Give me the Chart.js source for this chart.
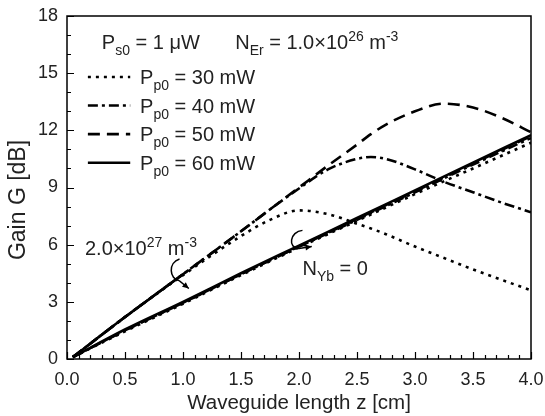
<!DOCTYPE html>
<html>
<head>
<meta charset="utf-8">
<script src="https://cdn.jsdelivr.net/npm/chart.js@4"></script>
<style>
  body { margin: 0; background: #fff; }
  canvas { display: block; }
</style>
</head>
<body>
<canvas id="chart" width="545" height="416"></canvas>
<script>
// pump powers (legend)
const pumpLabels = ['30 mW', '40 mW', '50 mW', '60 mW'];

// N_Yb = 0 curves
const zLow = [0.05, 0.5, 1.0, 1.5, 2.0, 2.5, 3.0, 3.5, 4.0];
const gainLow30 = [0.1, 1.45, 2.9, 4.4, 5.85, 7.25, 8.65, 10.0, 11.35];
const gainLow40 = [0.1, 1.5, 2.95, 4.45, 5.9, 7.3, 8.75, 10.2, 11.6];
const gainLow50 = [0.1, 1.5, 2.95, 4.45, 5.9, 7.35, 8.8, 10.25, 11.7];
const gainLow60 = [0.1, 1.55, 3.0, 4.5, 5.95, 7.4, 8.85, 10.3, 11.75];

// N_Yb = 2.0e27 m^-3 curves
const zHigh = [0.05, 0.5, 1.0, 1.5, 1.75, 2.0, 2.25, 2.5, 2.62, 2.75, 3.0, 3.25, 3.5, 3.75, 4.0];
const gainHigh30 = [0.1, 2.2, 4.4, 6.45, 7.3, 7.8, 7.6, 7.1, 6.85, 6.55, 5.9, 5.3, 4.7, 4.15, 3.6];
const gainHigh40 = [0.1, 2.2, 4.45, 6.7, 7.85, 8.95, 9.95, 10.5, 10.6, 10.5, 9.95, 9.3, 8.75, 8.2, 7.7];
const gainHigh50 = [0.1, 2.2, 4.45, 6.7, 7.85, 9.0, 10.15, 11.25, 11.8, 12.3, 13.0, 13.4, 13.2, 12.65, 11.9];
const zHigh60 = [0.05, 0.5, 1.0];
const gainHigh60 = [0.1, 2.2, 4.45];

const xTicksMajor = 0.5, xTicksMinor = 0.1;
const yTicksMajor = 3, yTicksMinor = 1;

const FONT = '"Liberation Sans", Arial, sans-serif';
const INK = '#222';
const LW = 2.6;
const dashes = [[3, 5], [10, 4, 3, 4], [12, 7], []];

function pts(xs, ys) {
    return xs.map((x, i) => ({ x: x, y: ys[i] }));
}

function series(xs, ys, k) {
    return {
        data: pts(xs, ys),
        borderColor: '#000',
        borderWidth: LW,
        borderDash: dashes[k],
        pointRadius: 0,
        fill: false,
        cubicInterpolationMode: 'monotone'
    };
}

// draw text with sub/superscript parts: [text, ''|'sub'|'sup']
function richText(ctx, x, y, parts, size) {
    ctx.save();
    ctx.fillStyle = INK;
    ctx.textBaseline = 'alphabetic';
    ctx.textAlign = 'left';
    parts.forEach(([t, mode]) => {
        let s = size, dy = 0;
        if (mode === 'sub') { s = size * 0.7; dy = size * 0.3; }
        if (mode === 'sup') { s = size * 0.7; dy = -size * 0.42; }
        ctx.font = s + 'px ' + FONT;
        ctx.fillText(t, x, y + dy);
        x += ctx.measureText(t).width;
    });
    ctx.restore();
}

function curlyArrow(ctx, p0, c1, c2, p1, tip) {
    ctx.save();
    ctx.strokeStyle = '#000';
    ctx.fillStyle = '#000';
    ctx.lineWidth = 1.5;
    ctx.beginPath();
    ctx.moveTo(p0[0], p0[1]);
    ctx.bezierCurveTo(c1[0], c1[1], c2[0], c2[1], p1[0], p1[1]);
    ctx.lineTo(tip[0], tip[1]);
    ctx.stroke();
    const a = Math.atan2(tip[1] - p1[1], tip[0] - p1[0]);
    ctx.beginPath();
    ctx.moveTo(tip[0], tip[1]);
    ctx.lineTo(tip[0] - 7 * Math.cos(a - 0.45), tip[1] - 7 * Math.sin(a - 0.45));
    ctx.lineTo(tip[0] - 7 * Math.cos(a + 0.45), tip[1] - 7 * Math.sin(a + 0.45));
    ctx.closePath();
    ctx.fill();
    ctx.restore();
}

const decorations = {
    id: 'decorations',
    afterDraw(chart) {
        const ctx = chart.ctx;
        const xs = chart.scales.x, ys = chart.scales.y;
        const area = chart.chartArea;
        const X = v => xs.getPixelForValue(v);
        const Y = v => ys.getPixelForValue(v);

        // frame
        ctx.save();
        ctx.strokeStyle = '#000';
        ctx.lineWidth = 1.5;
        ctx.strokeRect(area.left, area.top, area.right - area.left, area.bottom - area.top);

        // inward ticks
        ctx.lineWidth = 1.2;
        ctx.beginPath();
        for (let i = 0; i <= Math.round(xs.max / xTicksMinor); i++) {
            const v = i * xTicksMinor;
            const major = Math.abs(v / xTicksMajor - Math.round(v / xTicksMajor)) < 1e-6;
            const px = Math.round(X(v)) + 0.5;
            ctx.moveTo(px, area.bottom);
            ctx.lineTo(px, area.bottom - (major ? 7 : 4));
        }
        for (let i = 0; i <= Math.round(ys.max / yTicksMinor); i++) {
            const v = i * yTicksMinor;
            const major = v % yTicksMajor === 0;
            const py = Math.round(Y(v)) + 0.5;
            ctx.moveTo(area.left, py);
            ctx.lineTo(area.left + (major ? 7 : 4), py);
        }
        ctx.stroke();
        ctx.restore();

        // axis titles
        ctx.save();
        ctx.fillStyle = INK;
        ctx.textAlign = 'center';
        ctx.textBaseline = 'middle';
        ctx.font = '20.5px ' + FONT;
        ctx.fillText('Waveguide length z [cm]', (area.left + area.right) / 2, 403);
        ctx.translate(19, 200);
        ctx.rotate(-Math.PI / 2);
        ctx.font = '23px ' + FONT;
        ctx.fillText('Gain G [dB]', 0, 0);
        ctx.restore();

        // header text
        const fs = 20;
        richText(ctx, X(0.30), Y(16.63) + 7, [['P', ''], ['s0', 'sub'], [' = 1 \u03BCW', '']], fs);
        richText(ctx, X(1.45), Y(16.63) + 7,
            [['N', ''], ['Er', 'sub'], [' = 1.0\u00D710', ''], ['26', 'sup'], [' m', ''], ['-3', 'sup']], fs);

        // legend
        const rows = [14.8, 13.3, 11.8, 10.3];
        rows.forEach((g, k) => {
            const py = Y(g);
            ctx.save();
            ctx.strokeStyle = '#000';
            ctx.lineWidth = LW;
            ctx.setLineDash(dashes[k]);
            ctx.beginPath();
            ctx.moveTo(X(0.18), py);
            ctx.lineTo(X(0.545), py);
            ctx.stroke();
            ctx.restore();
            richText(ctx, X(0.63), py + 7, [['P', ''], ['p0', 'sub'], [' = ' + pumpLabels[k], '']], fs);
        });

        // curve annotations
        richText(ctx, X(0.155), Y(5.8) + 7,
            [['2.0\u00D710', ''], ['27', 'sup'], [' m', ''], ['-3', 'sup']], fs);
        richText(ctx, X(2.03), Y(4.75) + 7, [['N', ''], ['Yb', 'sub'], [' = 0', '']], fs);

        curlyArrow(ctx, [X(0.97), Y(5.25)], [X(0.87), Y(5.05)], [X(0.88), Y(4.2)],
            [X(0.97), Y(4.1)], [X(1.05), Y(3.7)]);
        curlyArrow(ctx, [X(2.03), Y(6.75)], [X(1.92), Y(6.7)], [X(1.9), Y(5.8)],
            [X(2.0), Y(5.8)], [X(2.11), Y(5.9)]);
    }
};

function fixBox(size) {
    return s => {
        if (s.isHorizontal()) s.height = size; else s.width = size;
        s.paddingLeft = 0; s.paddingRight = 0;
        s.paddingTop = 0; s.paddingBottom = 0;
    };
}

new Chart(document.getElementById('chart'), {
    type: 'line',
    data: {
        datasets: [
            series(zLow, gainLow30, 0),
            series(zLow, gainLow40, 1),
            series(zLow, gainLow50, 2),
            series(zLow, gainLow60, 3),
            series(zHigh, gainHigh30, 0),
            series(zHigh, gainHigh40, 1),
            series(zHigh, gainHigh50, 2),
            series(zHigh60, gainHigh60, 3)
        ]
    },
    options: {
        responsive: false,
        animation: false,
        devicePixelRatio: 1,
        layout: { padding: { top: 16, right: 14, left: 0, bottom: 0 } },
        plugins: { legend: { display: false }, tooltip: { enabled: false } },
        scales: {
            x: {
                type: 'linear',
                min: 0, max: 4,
                grid: { display: false, drawTicks: false },
                border: { display: false },
                ticks: {
                    stepSize: xTicksMajor,
                    padding: 10,
                    maxRotation: 0,
                    color: INK,
                    font: { size: 18, family: FONT },
                    callback: v => v.toFixed(1)
                },
                afterFit: fixBox(57)
            },
            y: {
                min: 0, max: 18,
                grid: { display: false, drawTicks: false },
                border: { display: false },
                ticks: {
                    stepSize: yTicksMajor,
                    padding: 9,
                    color: INK,
                    font: { size: 18, family: FONT }
                },
                afterFit: fixBox(67)
            }
        }
    },
    plugins: [decorations]
});
</script>
</body>
</html>
